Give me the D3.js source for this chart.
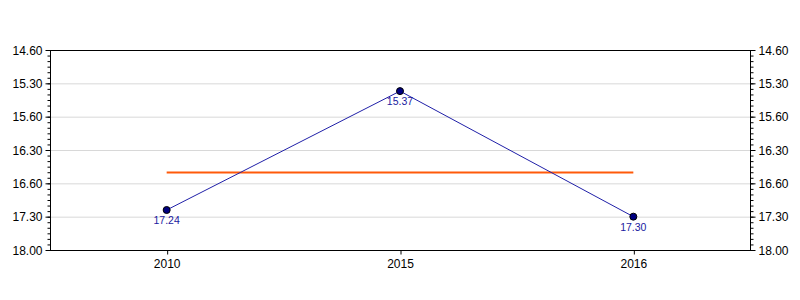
<!DOCTYPE html>
<html><head><meta charset="utf-8">
<script src="https://cdn.jsdelivr.net/npm/d3@7"></script>
<style>body{margin:0;background:#fff}svg{display:block;font-family:"Liberation Sans",Arial,sans-serif}</style>
</head><body>
<svg id="c" width="800" height="300"></svg>
<script>
// data: times written as minutes.seconds
const categories = ["2010", "2015", "2016"];
const timeLabels = ["17.24", "15.37", "17.30"];
const tickLabels = ["14.60", "15.30", "15.60", "16.30", "16.60", "17.30", "18.00"];
const tickSeconds = [900, 930, 960, 990, 1020, 1050, 1080];

const toSec = s => { const [m, ss] = s.split("."); return (+m) * 60 + (+ss); };
const values = timeLabels.map(toSec);
const mean = d3.mean(values);

const svg = d3.select("#c");
const L = 50, R = 750, T = 50, B = 250;

const x = d3.scalePoint().domain(categories).range([L, R]).padding(0.5);
const y = d3.scaleLinear().domain([900, 1080]).range([T, B]);

// gridlines
svg.append("g").selectAll("line").data(tickSeconds.slice(1, -1)).join("line")
  .attr("x1", L).attr("x2", R)
  .attr("y1", d => y(d) + 0.5).attr("y2", d => y(d) + 0.5)
  .attr("stroke", "#d8d8d8").attr("stroke-width", 1);

const minor = d3.range(900, 1081, 5);

function yAxis(side) {
  const g = svg.append("g").attr("transform", `translate(${side === "left" ? L + 0.5 : R + 0.5},0)`);
  const dir = side === "left" ? -1 : 1;
  g.selectAll("line.minor").data(minor).join("line")
    .attr("x1", 0).attr("x2", dir * 3)
    .attr("y1", d => y(d) + 0.5).attr("y2", d => y(d) + 0.5)
    .attr("stroke", "#000");
  g.selectAll("line.major").data(tickSeconds).join("line")
    .attr("x1", 0).attr("x2", dir * 5)
    .attr("y1", d => y(d) + 0.5).attr("y2", d => y(d) + 0.5)
    .attr("stroke", "#000");
  g.selectAll("text").data(tickSeconds).join("text")
    .attr("x", dir * 8).attr("y", d => y(d) + 0.5).attr("dy", "0.35em")
    .attr("text-anchor", side === "left" ? "end" : "start")
    .attr("font-size", 12).attr("fill", "#000")
    .text((d, i) => tickLabels[i]);
}
yAxis("left");
yAxis("right");

// x axis
const xg = svg.append("g").attr("transform", `translate(0,${B + 0.5})`)
  .call(d3.axisBottom(x).tickSize(4).tickPadding(5));
xg.select(".domain").remove();
xg.selectAll("line").attr("transform", "translate(0.5,0)");
xg.selectAll("text").attr("font-size", 12).attr("font-family", "Liberation Sans, Arial, sans-serif").attr("fill", "#000");

// frame
svg.append("rect").attr("x", L + 0.5).attr("y", T + 0.5).attr("width", R - L).attr("height", B - T)
  .attr("fill", "none").attr("stroke", "#000").attr("stroke-width", 1);

// mean line
svg.append("line")
  .attr("x1", x(categories[0])).attr("x2", x(categories[categories.length - 1]))
  .attr("y1", y(mean)).attr("y2", y(mean))
  .attr("stroke", "#ff5a0a").attr("stroke-width", 2);

// series line
svg.append("path").datum(values)
  .attr("d", d3.line().x((d, i) => x(categories[i])).y(d => y(d)))
  .attr("fill", "none").attr("stroke", "#2020a8").attr("stroke-width", 1);

// points
svg.append("g").selectAll("circle").data(values).join("circle")
  .attr("cx", (d, i) => x(categories[i])).attr("cy", d => y(d)).attr("r", 3.5)
  .attr("fill", "#000080").attr("stroke", "#000").attr("stroke-width", 1);

// labels
svg.append("g").selectAll("text").data(values).join("text")
  .attr("x", (d, i) => x(categories[i])).attr("y", d => y(d) + 14)
  .attr("text-anchor", "middle").attr("font-size", 10.5).attr("fill", "#1a1aa0")
  .text((d, i) => timeLabels[i]);
</script>
</body></html>
